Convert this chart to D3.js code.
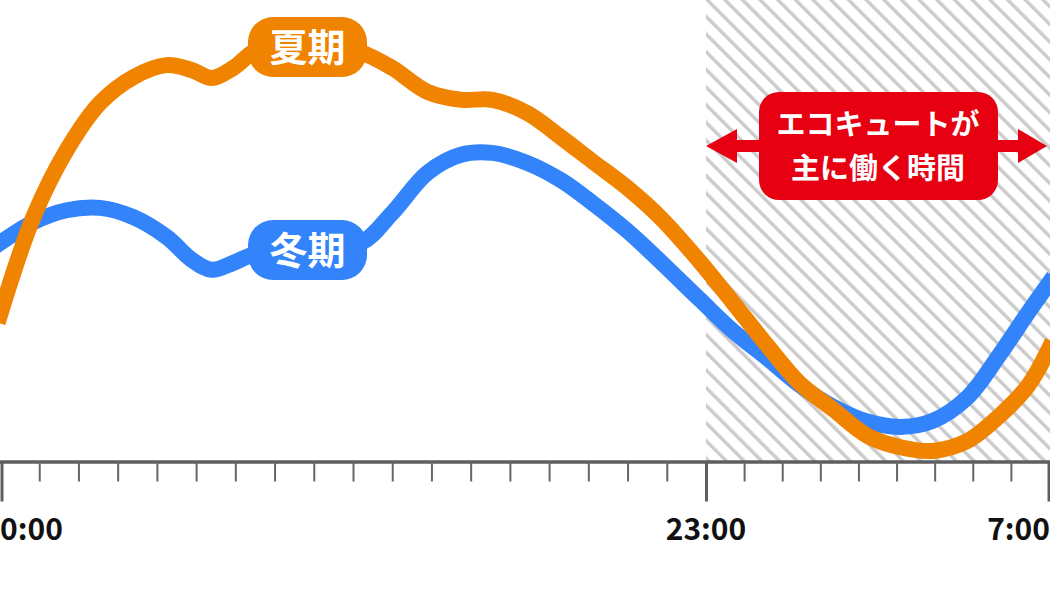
<!DOCTYPE html>
<html><head><meta charset="utf-8">
<script src="https://cdn.jsdelivr.net/npm/d3@7"></script>
<style>
html,body{margin:0;padding:0;background:#fff;}
svg{display:block;}
text{font-family:"Noto Sans CJK JP","Noto Sans",sans-serif;font-weight:700;}
</style></head>
<body>
<svg id="chart" width="1050" height="600"></svg>
<script>
// time slots (tick units along the axis) and relative levels (0–100)
const slots  = [0,0.85,1.7,2.55,3.4,4.25,4.9,5.4,5.95,6.55,7.85,9.2,10,10.9,11.75,12.55,13.45,14.3,15.1,16,16.85,17.85,18.7,19.6,20.45,21.35,22.25,23.1,23.95,24.85,25.7,26.45,27];
const summer = [31.8,53.0,67.5,77.7,83.3,85.9,84.8,83.1,85.3,89.2,91.3,88.7,85.3,80.1,78.4,78.4,75.5,70.3,65.1,59.3,52.8,43.3,34.6,25.3,17.1,11.3,5.6,3.2,2.4,4.5,10.0,16.5,24.5];
const winter = [47.4,51.9,54.5,55.0,53.0,48.7,43.7,41.6,43.1,45.2,45.9,47.4,53.9,62.6,66.5,66.9,64.7,61.0,56.1,50.0,43.3,35.1,28.4,22.5,16.7,11.9,8.7,7.6,8.9,13.9,23.2,32.3,38.7];
const tickSlots = d3.range(0, 28);
const majorSlots = [0, 18, 27];
const majorLabels = ["0:00", "23:00", "7:00"];
const seriesNames = ["夏期", "冬期"];
const ecoStart = 18, ecoEnd = 27;
const ecoLines = ["エコキュートが", "主に働く時間"];

const W = 1050, H = 600, axisY = 462;
const svg = d3.select("#chart");
const x = d3.scaleLinear().domain([0, 18, 27]).range([0, 706, 1049]);
const y = d3.scaleLinear().domain([0, 100]).range([axisY, 0]);

const C_OR = "#F08300", C_BL = "#3384FB", C_RED = "#E60012";

// hatch pattern
const defs = svg.append("defs");
const pat = defs.append("pattern").attr("id", "hatch")
  .attr("patternUnits", "userSpaceOnUse")
  .attr("x", -1.55).attr("width", 12.5).attr("height", 12.5)
  .attr("patternTransform", "rotate(-45)");
pat.append("rect").attr("x", 0).attr("y", 0).attr("width", 3.4).attr("height", 12.5).attr("fill", "#cbcbcb");

svg.append("rect").attr("x", x(ecoStart)).attr("y", 0)
  .attr("width", W - x(ecoStart)).attr("height", axisY)
  .attr("fill", "url(#hatch)");

// lines
const line = d3.line().x(d => x(d[0])).y(d => y(d[1])).curve(d3.curveCatmullRom.alpha(0.5));
svg.append("path").datum(slots.map((s, i) => [s, winter[i]]))
  .attr("d", line).attr("fill", "none").attr("stroke", C_BL)
  .attr("stroke-width", 16).attr("stroke-linecap", "square").attr("stroke-linejoin", "round");
svg.append("path").datum(slots.map((s, i) => [s, summer[i]]))
  .attr("d", line).attr("fill", "none").attr("stroke", C_OR)
  .attr("stroke-width", 16).attr("stroke-linecap", "square").attr("stroke-linejoin", "round");

// series labels
const labels = [
  {name: seriesNames[0], color: C_OR, cy: 47},
  {name: seriesNames[1], color: C_BL, cy: 250}
];
labels.forEach(l => {
  const g = svg.append("g");
  g.append("rect").attr("x", 248).attr("y", l.cy - 30).attr("width", 119).attr("height", 60)
    .attr("rx", 25).attr("fill", l.color);
  g.append("text").attr("x", 307.5).attr("y", l.cy + 14).attr("text-anchor", "middle")
    .attr("font-size", 38).attr("fill", "#fff").text(l.name);
});

// eco callout with double arrow
const ay = 146, x0 = x(ecoStart), x1 = W - 3;
const arrow = d3.path();
arrow.moveTo(x0, ay);
arrow.lineTo(x0 + 31, ay - 17);
arrow.lineTo(x0 + 31, ay - 6);
arrow.lineTo(x1 - 29, ay - 6);
arrow.lineTo(x1 - 29, ay - 17);
arrow.lineTo(x1, ay);
arrow.lineTo(x1 - 29, ay + 17);
arrow.lineTo(x1 - 29, ay + 6);
arrow.lineTo(x0 + 31, ay + 6);
arrow.lineTo(x0 + 31, ay + 17);
arrow.closePath();
svg.append("path").attr("d", arrow.toString()).attr("fill", C_RED);
svg.append("rect").attr("x", 759).attr("y", 92).attr("width", 239).attr("height", 108)
  .attr("rx", 20).attr("fill", C_RED);
ecoLines.forEach((t, i) => {
  svg.append("text").attr("x", 878).attr("y", 135 + i * 43.5).attr("text-anchor", "middle")
    .attr("font-size", 29).attr("fill", "#fff").text(t);
});

// axis
const axis = d3.axisBottom(x).tickValues(tickSlots).tickSize(20).tickSizeOuter(0).tickFormat("");
const ag = svg.append("g").attr("transform", `translate(0,${axisY - 0.5})`).call(axis);
ag.select(".domain").attr("stroke", "#5e5e5e").attr("stroke-width", 3.5).attr("d", `M0,0.5H${W}`);
ag.selectAll(".tick line").attr("stroke", "#666").attr("stroke-width", 2);
ag.selectAll(".tick").filter(d => majorSlots.includes(d)).select("line")
  .attr("y2", 40).attr("stroke-width", 3).attr("stroke", "#5e5e5e");
ag.selectAll(".tick").filter(d => d === 0).select("line").attr("transform", "translate(1.5,0)");
ag.selectAll(".tick").filter(d => d === 27).select("line").attr("transform", "translate(-0.5,0)");

// major labels
const anchors = ["start", "middle", "end"];
majorSlots.forEach((s, i) => {
  svg.append("text").attr("x", i === 0 ? 0 : (i === 2 ? W : x(s)))
    .attr("y", 540).attr("text-anchor", anchors[i])
    .attr("font-size", 30).attr("fill", "#111").text(majorLabels[i]);
});
</script>
</body></html>
